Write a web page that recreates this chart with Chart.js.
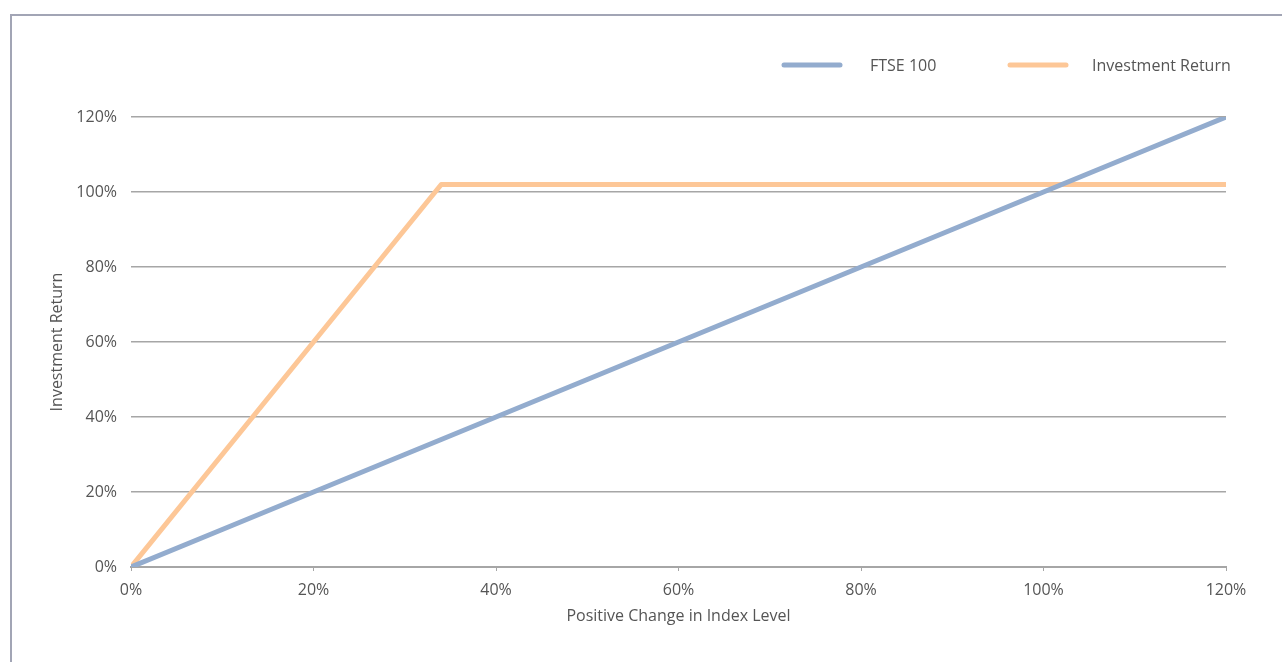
<!DOCTYPE html>
<html>
<head>
<meta charset="utf-8">
<title>FTSE 100 vs Investment Return</title>
<script src="https://cdn.jsdelivr.net/npm/chart.js@4.4.1/dist/chart.umd.min.js"></script>
<style>
    html, body { margin: 0; padding: 0; background: #fff; }
    #wrap { position: relative; width: 1282px; height: 662px; overflow: hidden; }
    #frame {
        position: absolute; left: 10px; top: 14px; right: -10px; bottom: -10px;
        border-top: 2px solid #a2a5b5; border-left: 2px solid #a2a5b5;
        pointer-events: none;
    }
    canvas { position: absolute; left: 0; top: 0; }
</style>
</head>
<body>
<div id="wrap">
    <canvas id="returnChart" width="1282" height="662"></canvas>
    <div id="frame"></div>
</div>
<script>
// ── Data ─────────────────────────────────────────────────────────────────────

const indexChange   = [0, 10, 20, 30, 34, 40, 50, 60, 70, 80, 90, 100, 110, 120];
const ftse100       = [0, 10, 20, 30, 34, 40, 50, 60, 70, 80, 90, 100, 110, 120];
const investReturn  = [0, 30, 60, 90, 102, 102, 102, 102, 102, 102, 102, 102, 102, 102];
const axisTicks     = [0, 20, 40, 60, 80, 100, 120];
const seriesLabels  = ['FTSE 100', 'Investment Return'];

// ── Helpers ──────────────────────────────────────────────────────────────────

const FONT = '"Open Sans", "Noto Sans", sans-serif';
const TEXT = '#555555';
const SIZE = 16;

function toPoints(xs, ys) {
    return xs.map((x, i) => ({ x: x, y: ys[i] }));
}

// custom legend: line swatch then label, right aligned above the plot
const lineLegend = {
    id: 'lineLegend',
    afterDraw(chart) {
        const ctx = chart.ctx;
        const items = [
            { x: 784, w: 56, textX: 870 },
            { x: 1010, w: 56, textX: 1092 }
        ];
        ctx.save();
        ctx.font = SIZE + 'px ' + FONT;
        ctx.textBaseline = 'middle';
        chart.data.datasets.forEach((ds, i) => {
            const it = items[i];
            ctx.strokeStyle = ds.borderColor;
            ctx.lineWidth = 5;
            ctx.lineCap = 'round';
            ctx.beginPath();
            ctx.moveTo(it.x, 65);
            ctx.lineTo(it.x + it.w, 65);
            ctx.stroke();
            ctx.fillStyle = TEXT;
            ctx.fillText(ds.label, it.textX, 66);
        });
        ctx.restore();
    }
};

// ── Chart ────────────────────────────────────────────────────────────────────

const ctx = document.getElementById('returnChart').getContext('2d');
new Chart(ctx, {
    type: 'line',
    data: {
        datasets: [{
            label: seriesLabels[0],
            data: toPoints(indexChange, ftse100),
            borderColor: '#93acce',
            borderWidth: 5,
            borderCapStyle: 'round',
            borderJoinStyle: 'round',
            pointRadius: 0,
            tension: 0
        }, {
            label: seriesLabels[1],
            data: toPoints(indexChange, investReturn),
            borderColor: '#fdc797',
            borderWidth: 5,
            borderCapStyle: 'round',
            borderJoinStyle: 'round',
            pointRadius: 0,
            tension: 0
        }]
    },
    options: {
        responsive: false,
        animation: false,
        layout: { padding: { left: 0, top: 117, right: 56, bottom: 0 } },
        plugins: { legend: { display: false }, tooltip: { enabled: false } },
        scales: {
            x: {
                type: 'linear',
                min: 0, max: 120,
                afterBuildTicks: s => { s.ticks = axisTicks.map(v => ({ value: v })); },
                afterFit: s => { s.height = 95; },
                grid: { drawOnChartArea: false, drawTicks: true, tickLength: 4, color: '#a6a6a6' },
                border: { color: '#a6a6a6', width: 2 },
                ticks: {
                    padding: 10,
                    color: TEXT,
                    font: { family: FONT, size: SIZE },
                    callback: v => v + '%'
                },
                title: {
                    display: true,
                    text: 'Positive Change in Index Level',
                    color: TEXT,
                    font: { family: FONT, size: SIZE },
                    padding: { top: 0, bottom: 36 }
                }
            },
            y: {
                min: 0, max: 120,
                afterBuildTicks: s => { s.ticks = axisTicks.map(v => ({ value: v })); },
                afterFit: s => { s.width = 131; },
                grid: { drawTicks: false, color: '#a6a6a6', lineWidth: 1.5 },
                border: { display: false },
                ticks: {
                    padding: 14,
                    color: TEXT,
                    font: { family: FONT, size: SIZE },
                    callback: v => v + '%'
                },
                title: {
                    display: true,
                    text: 'Investment Return',
                    color: TEXT,
                    font: { family: FONT, size: SIZE },
                    padding: { top: 48, bottom: 0 }
                }
            }
        }
    },
    plugins: [lineLegend]
});
</script>
</body>
</html>
